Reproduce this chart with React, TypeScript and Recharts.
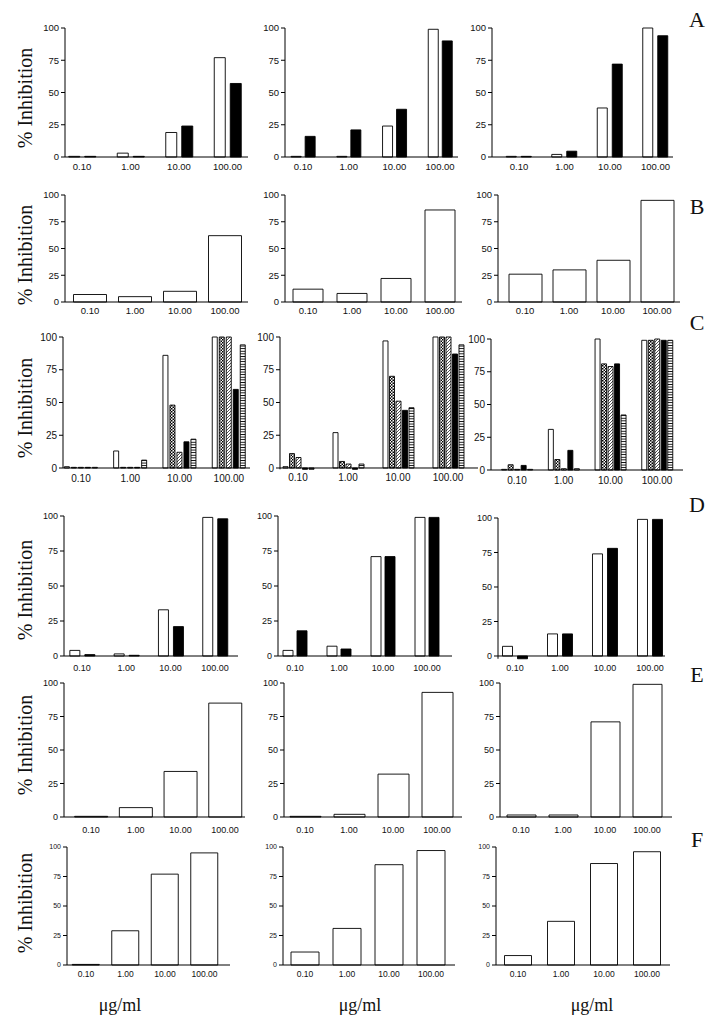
import React from 'react';
import { BarChart, Bar, XAxis, YAxis, ReferenceLine } from 'recharts';

// dose levels shared by every panel
const doses = ['0.10', '1.00', '10.00', '100.00'];
const yTicks = [0, 25, 50, 75, 100];

// row A
const a1Open = [0.5, 3, 19, 77];
const a1Solid = [0.5, 0.5, 24, 57];
const a2Open = [0.5, 0.5, 24, 99];
const a2Solid = [16, 21, 37, 90];
const a3Open = [0.5, 2, 38, 100];
const a3Solid = [0.5, 4.5, 72, 94];

// row B
const b1Open = [7, 5, 10, 62];
const b2Open = [12, 8, 22, 86];
const b3Open = [26, 30, 39, 95];

// row C
const c1Open = [1, 13, 86, 100];
const c1Dots = [0.5, 0.5, 48, 100];
const c1Diag = [0.5, 0.5, 12, 100];
const c1Solid = [0.5, 0.5, 20, 60];
const c1Stripe = [0.5, 6, 22, 94];
const c2Open = [1, 27, 97, 100];
const c2Dots = [11, 5, 70, 100];
const c2Diag = [8, 3, 51, 100];
const c2Solid = [-1, -1, 44, 87];
const c2Stripe = [-1, 3, 46, 94];
const c3Open = [0.5, 31, 100, 99];
const c3Dots = [4, 8, 81, 99];
const c3Diag = [0.5, 1, 79, 100];
const c3Solid = [3.5, 15, 81, 99];
const c3Stripe = [0.5, 1, 42, 99];

// row D
const d1Open = [4, 1.5, 33, 99];
const d1Solid = [1, 0.5, 21, 98];
const d2Open = [4, 7, 71, 99];
const d2Solid = [18, 5, 71, 99];
const d3Open = [7, 16, 74, 99];
const d3Solid = [-2, 16, 78, 99];

// row E
const e1Open = [0.5, 7, 34, 85];
const e2Open = [0.5, 2, 32, 93];
const e3Open = [1.5, 1.5, 71, 99];

// row F
const f1Open = [0.5, 29, 77, 95];
const f2Open = [11, 31, 85, 97];
const f3Open = [8, 37, 86, 96];

const OPEN = '#fff';
const SOLID = '#000';
const DOTS = 'url(#pat-dots)';
const DIAG = 'url(#pat-diag)';
const STRIPE = 'url(#pat-stripe)';

const SANS = '"Liberation Sans", Arial, Helvetica, sans-serif';
const SERIF = '"Liberation Serif", "Times New Roman", serif';

type Series = { values: number[]; fill: string };

type PanelProps = {
  plotLeft: number;
  plotRight: number;
  yTop: number;
  yBottom: number;
  center0: number;
  spacing: number;
  barSize: number;
  barGap?: number;
  font: number;
  yFont?: number;
  labelOffset: number;
  series: Series[];
};

const Y_W = 30;
const TOP_M = 7;
const RIGHT_M = 4;
const X_H = 22;

function Panel(p: PanelProps) {
  const dmin = Math.min(0, ...p.series.flatMap((s) => s.values));
  const unit = (p.yBottom - p.yTop) / 100;
  const plotH = (100 - dmin) * unit;
  const plotW = p.plotRight - p.plotLeft;
  const bandStart = p.center0 - p.spacing / 2;
  const bandEnd = bandStart + p.spacing * doses.length;
  const rows = doses.map((dose, i) => {
    const row: Record<string, string | number> = { dose };
    p.series.forEach((s, k) => {
      row[`s${k}`] = s.values[i];
    });
    return row;
  });
  const below = -dmin * unit;
  const tickMargin = Math.max(0, p.labelOffset - 0.36 * p.font - below);

  return (
    <div style={{ position: 'absolute', left: p.plotLeft - Y_W, top: p.yTop - TOP_M }}>
      <BarChart
        width={Y_W + plotW + RIGHT_M}
        height={TOP_M + plotH + X_H}
        data={rows}
        margin={{ top: TOP_M, right: RIGHT_M, bottom: 0, left: 0 }}
        barSize={p.barSize}
        barGap={p.barGap ?? 0}
      >
        <XAxis
          dataKey="dose"
          axisLine={false}
          tickLine={false}
          tickSize={0}
          tickMargin={tickMargin}
          interval={0}
          height={X_H}
          padding={{ left: bandStart - p.plotLeft, right: p.plotRight - bandEnd }}
          tick={{ fontSize: p.font, fill: '#111', fontFamily: SANS }}
        />
        <YAxis
          domain={[dmin, 100]}
          ticks={yTicks}
          width={Y_W}
          axisLine={{ stroke: '#000', strokeWidth: 1 }}
          tickLine={{ stroke: '#000', strokeWidth: 1 }}
          tickSize={4}
          tickMargin={2}
          tick={{ fontSize: p.yFont ?? p.font, fill: '#111', fontFamily: SANS }}
        />
        {p.series.map((s, k) => (
          <Bar
            key={k}
            dataKey={`s${k}`}
            fill={s.fill}
            stroke="#000"
            strokeWidth={0.9}
            isAnimationActive={false}
          />
        ))}
        <ReferenceLine y={0} stroke="#000" strokeWidth={1} ifOverflow="visible" />
      </BarChart>
    </div>
  );
}

const rowA = { yTop: 28, yBottom: 157, font: 9.5, labelOffset: 10 };
const rowB = { yTop: 195, yBottom: 302, font: 9.5, labelOffset: 9 };
const rowC = { yTop: 337, yBottom: 468, font: 10, labelOffset: 10 };
const rowD = { yTop: 516, yBottom: 656, font: 9, labelOffset: 12 };
const rowE = { yTop: 683, yBottom: 817, font: 9, labelOffset: 13 };
const rowF = { yTop: 847, yBottom: 965, font: 8.5, yFont: 7, labelOffset: 9 };

const rowTitles = [
  { letter: 'A', ly: 20, cy: 98 },
  { letter: 'B', ly: 207, cy: 255 },
  { letter: 'C', ly: 323, cy: 408 },
  { letter: 'D', ly: 505, cy: 590 },
  { letter: 'E', ly: 675, cy: 745 },
  { letter: 'F', ly: 840, cy: 903 },
];

const unitLabels = [120, 360, 592];

function Patterns() {
  return (
    <svg width={0} height={0} style={{ position: 'absolute' }}>
      <defs>
        <pattern id="pat-dots" width={3} height={3} patternUnits="userSpaceOnUse">
          <rect width={3} height={3} fill="#fff" />
          <rect x={0} y={0} width={1.5} height={1.5} fill="#000" />
          <rect x={1.5} y={1.5} width={1.5} height={1.5} fill="#000" />
        </pattern>
        <pattern id="pat-diag" width={3} height={3} patternUnits="userSpaceOnUse">
          <rect width={3} height={3} fill="#fff" />
          <path d="M-1,1 L1,-1 M0,3 L3,0 M2,4 L4,2" stroke="#000" strokeWidth={0.7} />
        </pattern>
        <pattern id="pat-stripe" width={4} height={2.6} patternUnits="userSpaceOnUse">
          <rect width={4} height={2.6} fill="#fff" />
          <rect x={0} y={0} width={4} height={0.9} fill="#000" />
        </pattern>
      </defs>
    </svg>
  );
}

export default function App() {
  return (
    <div
      style={{
        position: 'absolute',
        left: 0,
        top: 0,
        width: 718,
        height: 1020,
        background: '#fff',
        overflow: 'hidden',
      }}
    >
      <Patterns />

      <Panel {...rowA} plotLeft={65} plotRight={248} center0={82} spacing={48.5} barSize={11} barGap={5}
        series={[{ values: a1Open, fill: OPEN }, { values: a1Solid, fill: SOLID }]} />
      <Panel {...rowA} plotLeft={285} plotRight={458} center0={303} spacing={45.7} barSize={10} barGap={4}
        series={[{ values: a2Open, fill: OPEN }, { values: a2Solid, fill: SOLID }]} />
      <Panel {...rowA} plotLeft={492} plotRight={673} center0={519} spacing={45.5} barSize={10} barGap={5}
        series={[{ values: a3Open, fill: OPEN }, { values: a3Solid, fill: SOLID }]} />

      <Panel {...rowB} plotLeft={65} plotRight={248} center0={90} spacing={45} barSize={33}
        series={[{ values: b1Open, fill: OPEN }]} />
      <Panel {...rowB} plotLeft={285} plotRight={462} center0={308} spacing={44} barSize={30}
        series={[{ values: b2Open, fill: OPEN }]} />
      <Panel {...rowB} plotLeft={498} plotRight={680} center0={525} spacing={44} barSize={33}
        series={[{ values: b3Open, fill: OPEN }]} />

      <Panel {...rowC} plotLeft={63} plotRight={250} center0={81} spacing={49.3} barSize={5} barGap={2}
        series={[
          { values: c1Open, fill: OPEN },
          { values: c1Dots, fill: DOTS },
          { values: c1Diag, fill: DIAG },
          { values: c1Solid, fill: SOLID },
          { values: c1Stripe, fill: STRIPE },
        ]} />
      <Panel {...rowC} plotLeft={280} plotRight={478} center0={298} spacing={50} barSize={5} barGap={1.5}
        series={[
          { values: c2Open, fill: OPEN },
          { values: c2Dots, fill: DOTS },
          { values: c2Diag, fill: DIAG },
          { values: c2Solid, fill: SOLID },
          { values: c2Stripe, fill: STRIPE },
        ]} />
      <Panel {...rowC} yTop={339} yBottom={470} plotLeft={491} plotRight={683} center0={517} spacing={46.7} barSize={5} barGap={1.5}
        series={[
          { values: c3Open, fill: OPEN },
          { values: c3Dots, fill: DOTS },
          { values: c3Diag, fill: DIAG },
          { values: c3Solid, fill: SOLID },
          { values: c3Stripe, fill: STRIPE },
        ]} />

      <Panel {...rowD} plotLeft={64} plotRight={238} center0={82} spacing={44.3} barSize={10} barGap={5}
        series={[{ values: d1Open, fill: OPEN }, { values: d1Solid, fill: SOLID }]} />
      <Panel {...rowD} plotLeft={278} plotRight={452} center0={295} spacing={44} barSize={10} barGap={4}
        series={[{ values: d2Open, fill: OPEN }, { values: d2Solid, fill: SOLID }]} />
      <Panel {...rowD} yTop={518} plotLeft={498} plotRight={665} center0={515} spacing={45} barSize={10} barGap={5}
        series={[{ values: d3Open, fill: OPEN }, { values: d3Solid, fill: SOLID }]} />

      <Panel {...rowE} plotLeft={64} plotRight={245} center0={91} spacing={44.7} barSize={33}
        series={[{ values: e1Open, fill: OPEN }]} />
      <Panel {...rowE} plotLeft={284} plotRight={462} center0={305} spacing={44} barSize={31}
        series={[{ values: e2Open, fill: OPEN }]} />
      <Panel {...rowE} plotLeft={500} plotRight={672} center0={521} spacing={42} barSize={29}
        series={[{ values: e3Open, fill: OPEN }]} />

      <Panel {...rowF} plotLeft={67} plotRight={230} center0={86} spacing={39.5} barSize={27}
        series={[{ values: f1Open, fill: OPEN }]} />
      <Panel {...rowF} plotLeft={283} plotRight={455} center0={305} spacing={42} barSize={28}
        series={[{ values: f2Open, fill: OPEN }]} />
      <Panel {...rowF} plotLeft={496} plotRight={670} center0={518} spacing={43} barSize={27}
        series={[{ values: f3Open, fill: OPEN }]} />

      {rowTitles.map((r) => (
        <React.Fragment key={r.letter}>
          <div
            style={{
              position: 'absolute',
              left: 25,
              top: r.cy,
              transform: 'translate(-50%, -50%) rotate(-90deg)',
              fontFamily: SERIF,
              fontSize: 20,
              whiteSpace: 'nowrap',
              color: '#111',
            }}
          >
            % Inhibition
          </div>
          <div
            style={{
              position: 'absolute',
              left: 697,
              top: r.ly,
              transform: 'translate(-50%, -50%)',
              fontFamily: SERIF,
              fontSize: 22,
              color: '#111',
            }}
          >
            {r.letter}
          </div>
        </React.Fragment>
      ))}

      {unitLabels.map((x) => (
        <div
          key={x}
          style={{
            position: 'absolute',
            left: x,
            top: 1005,
            transform: 'translate(-50%, -50%)',
            fontFamily: SERIF,
            fontSize: 18,
            color: '#111',
          }}
        >
          μg/ml
        </div>
      ))}
    </div>
  );
}
